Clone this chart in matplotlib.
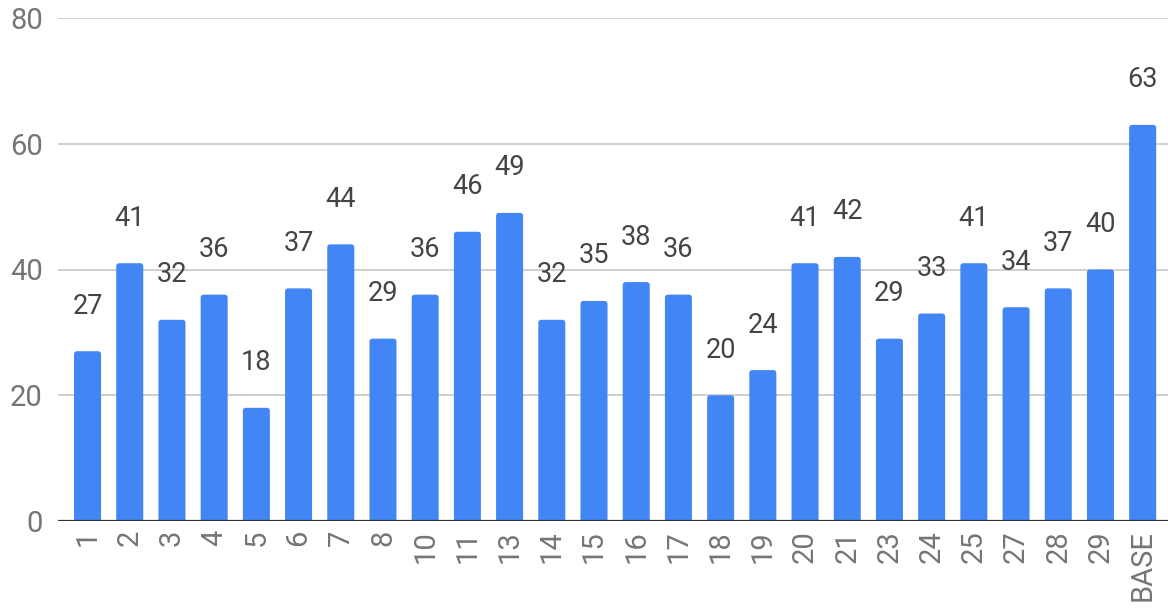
import matplotlib
matplotlib.use("Agg")
import matplotlib.pyplot as plt
from matplotlib.patches import FancyBboxPatch

categories = ["1", "2", "3", "4", "5", "6", "7", "8", "10", "11", "13", "14", "15",
              "16", "17", "18", "19", "20", "21", "23", "24", "25", "27", "28", "29", "BASE"]
values = [27, 41, 32, 36, 18, 37, 44, 29, 36, 46, 49, 32, 35,
          38, 36, 20, 24, 41, 42, 29, 33, 41, 34, 37, 40, 63]
y_ticks = [0, 20, 40, 60, 80]

plt.rcParams["font.family"] = ["Roboto", "DejaVu Sans"]

fig = plt.figure(figsize=(11.68, 6.09), dpi=100)
ax = fig.add_axes([58 / 1168, 1 - 521 / 609, 1 - 58 / 1168, (521 - 18) / 609])

x = list(range(len(categories)))
ax.set_xlim(-0.7, len(categories) - 1 + 0.6)
ax.set_ylim(0, 80)

# Bars with slightly rounded tops; the bottom rounding sits below the axis and is clipped.
bars = ax.bar(x, values, width=0.64, color="#4285F4", zorder=3)
fig.canvas.draw()
bbox = ax.get_window_extent()
px_per_x = bbox.width / (ax.get_xlim()[1] - ax.get_xlim()[0])
px_per_y = bbox.height / (ax.get_ylim()[1] - ax.get_ylim()[0])
aspect = px_per_x / px_per_y
below = 2.0
for rect in bars:
    x0, w, h = rect.get_x(), rect.get_width(), rect.get_height()
    rect.set_visible(False)
    patch = FancyBboxPatch((x0, -below), w, h + below,
                           boxstyle="round,pad=0,rounding_size=0.075",
                           mutation_aspect=aspect, facecolor="#4285F4",
                           edgecolor="none", zorder=3, clip_on=True)
    ax.add_patch(patch)

for xi, v in zip(x, values):
    ax.annotate(str(v), (xi, v), xytext=(0, 27), textcoords="offset points",
                ha="center", va="baseline", fontsize=19.5, color="#444444")

ax.set_yticks(y_ticks)
ax.set_xticks(x)
ax.set_xticklabels(categories, rotation=90, va="top", ha="center")

ax.yaxis.grid(True, color="#cccccc", linewidth=1.3, zorder=0)
ax.axhline(0, color="#333333", linewidth=1.6, zorder=4)

for side in ["top", "right", "left", "bottom"]:
    ax.spines[side].set_visible(False)

ax.tick_params(axis="y", length=0, pad=11, labelsize=21, labelcolor="#757575")
ax.tick_params(axis="x", length=0, pad=6.5, labelsize=21, labelcolor="#757575")

fig.savefig("out.png", dpi=100)
